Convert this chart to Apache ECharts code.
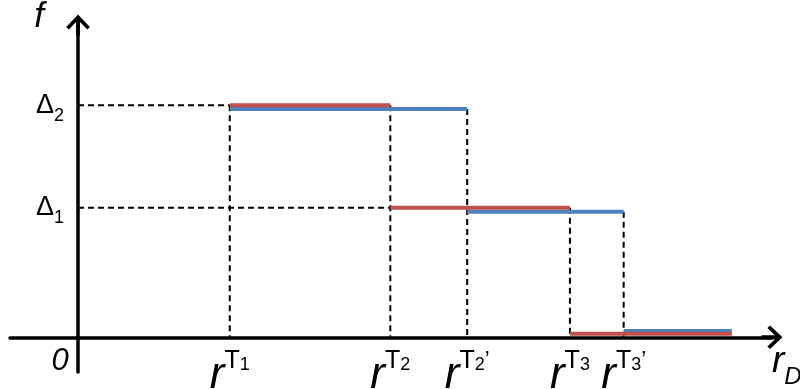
<!DOCTYPE html>
<html><head><meta charset="utf-8">
<script src="https://cdn.jsdelivr.net/npm/echarts@6/dist/echarts.min.js"></script>
<style>html,body{margin:0;padding:0;background:#fff}#c{width:800px;height:389px}</style>
</head><body><div id="c"></div>
<script>
// step boundaries (x) and levels (y) for the two step functions
const redBreaks = [22.3, 45.9, 72.3, 96.1];
const redLevels = [66.9, 37.3, 1.0];
const blueBreaks = [22.3, 57.2, 80.2, 96.1];
const blueLevels = [65.8, 36.2, 1.8];
// tick positions and labels
const xTickValues = [0, 22.3, 45.9, 57.2, 72.3, 80.2];
const xTickLabels = ['0', 'r^T1', 'r^T2', "r^T2'", 'r^T3', "r^T3'"];
const yTickValues = [66.9, 37.3];
const yTickLabels = ['Δ2', 'Δ1'];
const xAxisTitle = 'r_D';
const yAxisTitle = 'f';

const GAP = ['-', '-'];
function steps(bx, ly) {
  const d = [];
  for (let i = 0; i < ly.length; i++) {
    d.push([bx[i], ly[i]], [bx[i + 1], ly[i]]);
    if (i < ly.length - 1) d.push(GAP);
  }
  return d;
}
// dashed guide lines built from the step arrays
const guides = [
  [0, redLevels[0]], [redBreaks[0], redLevels[0]], GAP,
  [0, redLevels[1]], [redBreaks[1], redLevels[1]], GAP,
  [redBreaks[0], redLevels[0]], [redBreaks[0], 0], GAP,
  [redBreaks[1], redLevels[0]], [redBreaks[1], 0], GAP,
  [blueBreaks[1], blueLevels[0]], [blueBreaks[1], 0], GAP,
  [redBreaks[2], redLevels[1]], [redBreaks[2], 0], GAP,
  [blueBreaks[2], blueLevels[1]], [blueBreaks[2], 0]
];

function fmtX(v) {
  const i = xTickValues.indexOf(v);
  const s = i < 0 ? '' : xTickLabels[i];
  if (s === '0') return '{o|0}';
  const m = s.match(/^r\^T(\d)('?)$/);
  if (!m) return s;
  return '{r|r}{t|T}{s|' + m[1] + '}' + (m[2] ? '{p|\u2019}' : '');
}
function fmtY(v) {
  const i = yTickValues.indexOf(v);
  const s = i < 0 ? '' : yTickLabels[i];
  return '{d|' + s.charAt(0) + '}{s|' + s.slice(1) + '}';
}
function fmtName(s) {
  const p = s.split('_');
  return '{r|' + p[0] + '}{d|' + p[1] + '}';
}
const FONT = 'Liberation Sans';
const arrowPath = 'path://M9,0 L18,9.5 L16,11.5 L9,4.2 L2,11.5 L0,9.5 Z M7.5,2 L10.5,2 L10.5,16 L7.5,16 Z';

const chart = echarts.init(document.getElementById('c'), null, {renderer: 'canvas'});
chart.setOption({
  animation: false,
  backgroundColor: '#fff',
  grid: {left: 10, right: 28, top: 25, bottom: 17, containLabel: false, outerBoundsMode: 'none'},
  xAxis: {
    type: 'value', min: -10, max: 102,
    splitLine: {show: false},
    axisTick: {show: false},
    axisLine: {show: true, onZero: true, symbol: ['none', arrowPath], symbolSize: [24, 21],
      lineStyle: {color: '#000', width: 3.5}},
    axisLabel: {
      customValues: xTickValues, margin: -26, color: '#000', fontFamily: FONT,
      formatter: fmtX,
      rich: {
        r: {fontSize: 44, fontStyle: 'italic', fontFamily: FONT, color: '#000', lineHeight: 52, verticalAlign: 'bottom'},
        t: {fontSize: 25, fontFamily: FONT, color: '#000', lineHeight: 26, verticalAlign: 'top', padding: [3, 0, 0, 0]},
        s: {fontSize: 18, fontFamily: FONT, color: '#000', lineHeight: 18, verticalAlign: 'top', padding: [10, 0, 0, 0]},
        p: {fontSize: 22, fontFamily: FONT, color: '#000', lineHeight: 22, verticalAlign: 'top', padding: [3, 0, 0, 0]},
        o: {fontSize: 31, fontStyle: 'italic', fontFamily: FONT, color: '#000', lineHeight: 31, padding: [0, 36, 0, 0]}
      }
    },
    name: fmtName(xAxisTitle), nameLocation: 'end', nameGap: 0, nameMoveOverlap: false,
    nameTextStyle: {
      align: 'left', verticalAlign: 'top', padding: [6, 0, 0, 0],
      rich: {
        r: {fontSize: 37, fontStyle: 'italic', fontFamily: FONT, color: '#000', lineHeight: 34, verticalAlign: 'top'},
        d: {fontSize: 24, fontStyle: 'italic', fontFamily: FONT, color: '#000', lineHeight: 24, verticalAlign: 'top', padding: [22, 0, 0, 0]}
      }
    }
  },
  yAxis: {
    type: 'value', min: -10, max: 90,
    splitLine: {show: false},
    axisTick: {show: false},
    axisLine: {show: true, onZero: true, symbol: ['none', arrowPath], symbolSize: [24, 21],
      lineStyle: {color: '#000', width: 3.5}},
    axisLabel: {
      customValues: yTickValues, margin: -54, color: '#000', fontFamily: FONT,
      formatter: fmtY, padding: [1, 0, 0, 0],
      rich: {
        d: {fontSize: 27, fontFamily: FONT, color: '#000', lineHeight: 28, verticalAlign: 'top'},
        s: {fontSize: 18, fontFamily: FONT, color: '#000', lineHeight: 18, verticalAlign: 'top', padding: [15, 0, 0, 0]}
      }
    },
    name: yAxisTitle, nameLocation: 'end', nameGap: 25, nameMoveOverlap: false,
    nameTextStyle: {fontSize: 35, fontStyle: 'italic', fontFamily: FONT, color: '#000',
      align: 'right', verticalAlign: 'top', padding: [0, 34, 0, 0]}
  },
  series: [
    {type: 'line', data: guides, symbol: 'none', showSymbol: false, connectNulls: false, z: 1,
     lineStyle: {color: '#000', width: 2, type: [6, 4]}, silent: true},
    {type: 'line', data: steps(blueBreaks, blueLevels), symbol: 'none', showSymbol: false, connectNulls: false, z: 3,
     lineStyle: {color: '#4F81BD', width: 4}, silent: true},
    {type: 'line', data: steps(redBreaks, redLevels), symbol: 'none', showSymbol: false, connectNulls: false, z: 4,
     lineStyle: {color: '#C0504D', width: 4}, silent: true}
  ]
});
</script>
</body></html>
